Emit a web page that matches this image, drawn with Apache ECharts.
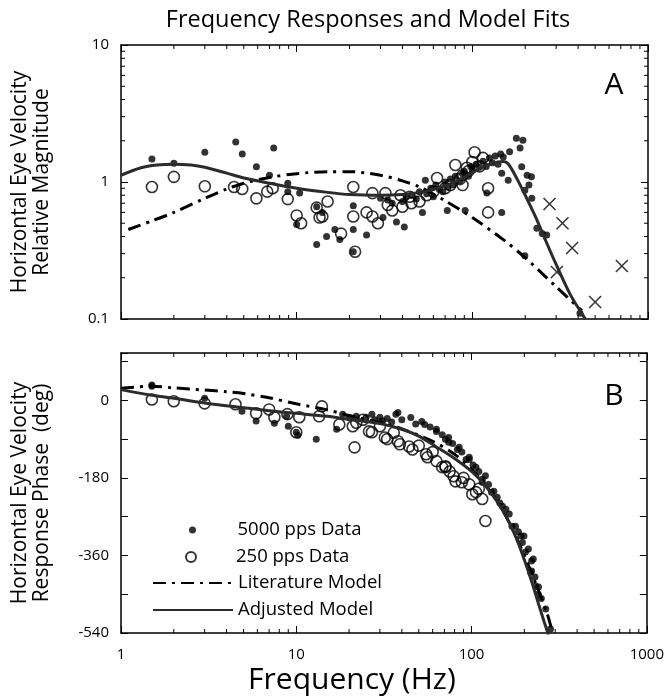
<!DOCTYPE html>
<html>
<head>
<meta charset="utf-8">
<script src="https://cdn.jsdelivr.net/npm/echarts@6/dist/echarts.min.js"></script>
<style>
  html, body { margin: 0; padding: 0; background: #fff; }
  #chart { width: 667px; height: 696px; }
</style>
</head>
<body>
<div id="chart"></div>
<script>
// panel A: magnitude [Hz, relative magnitude]
const dotsA = [
  [1.5,1.47],[2,1.37],[3,1.65],[4.5,1.96],[4.9,1.6],[5.9,1.29],[7.4,1.77],[7,1.12],[8.9,0.98],[8.9,0.85],
  [10.4,0.83],[10,0.49],[13,0.35],[14.8,0.4],[16.5,0.45],[17.6,0.38],[21,0.31],[21,0.45],[21,0.67],[25,0.41],
  [13,0.66],[14,0.6],[30,0.76],[54,1.03],[72,0.62],[91,0.62],[52,0.6],[41,0.47],[37,0.51],[31,0.55],[33,0.74],
  [35,0.7],[40,0.72],[42,0.78],[45,0.8],[48,0.75],[50,0.85],[55,0.82],[58,0.9],[60,0.78],[62,0.95],[65,0.88],
  [68,0.85],[70,1.0],[72,0.92],[75,1.05],[78,0.95],[80,1.1],[85,1.02],[88,1.15],[90,1.2],[95,1.1],[98,1.3],
  [100,1.22],[105,1.35],[110,1.28],[115,1.42],[120,1.3],[125,1.5],[130,1.38],[135,1.55],[140,1.35],[145,1.6],
  [150,1.52],[147,1.16],[160,1.03],[163,1.66],[178,2.09],[194,2.02],[187,1.77],[191,1.29],[205,1.12],[217,1.09],
  [210,0.95],[218,0.76],[199,0.87],[147,0.6],[121,0.83],[233,0.46],[250,0.42],[265,0.41],[199,0.29],[410,0.11]
];
const circlesA = [
  [1.5,0.92],[2,1.09],[3,0.93],[4.4,0.92],[4.9,0.89],[5.9,0.76],[6.8,0.85],[7.3,0.9],[8.9,0.75],[10,0.57],
  [10.6,0.5],[13,0.65],[14,0.56],[15,0.72],[17.9,0.42],[21.5,0.31],[21,0.92],[21,0.56],[27,0.83],[32,0.83],
  [25,0.6],[27,0.56],[29,0.5],[39,0.8],[40,0.66],[13.5,0.55],[63,1.07],[80,1.33],[88,1.12],[44,0.78],
  [103,1.65],[115,1.5],[123,0.9],[123,0.6],[93,1.27],[88,0.95],[35,0.62],[50,0.72],[55,0.8],[60,0.85],
  [70,0.9],[75,0.95],[85,1.05],[95,1.2],[100,1.4],[110,1.3],[45,0.7],[33,0.68]
];
const crossesA = [[275,0.69],[326,0.5],[370,0.33],[303,0.22],[500,0.133],[710,0.244]];
const litA = [
  [1.1,0.45],[1.5,0.52],[2,0.6],[3,0.76],[4,0.89],[5,0.98],[7,1.08],[10,1.15],[15,1.19],[20,1.19],
  [30,1.12],[40,1.02],[50,0.92],[70,0.73],[100,0.55],[150,0.38],[200,0.28],[300,0.172],[420,0.115]
];
const adjA = [
  [1,1.12],[1.3,1.27],[1.6,1.33],[2,1.35],[2.5,1.33],[3,1.28],[4,1.16],[5,1.07],[7,0.98],[10,0.9],
  [15,0.84],[20,0.81],[30,0.8],[40,0.81],[50,0.84],[60,0.88],[70,0.94],[80,1.0],[100,1.17],[120,1.32],
  [140,1.4],[150,1.41],[160,1.36],[180,1.05],[200,0.8],[230,0.55],[260,0.38],[300,0.25],[360,0.152],[440,0.1]
];

// panel B: phase [Hz, deg]
const dotsB = [
  [1.5,33],[1.5,36],[3,5],[4.9,-25],[5.9,-48],[7.5,-53],[8.8,-37],[9,-60],[10.2,-81],[10,-74],[13,-90],
  [17,-67],[18.4,-32],[22,-37],[25,-39],[27,-32],[30,-39],[31,-48],[37,-32],[54,-56],[63,-72],[71,-90],
  [83,-114],[93,-137],[74,-97],[97,-137],[115,-183],[134,-211],[157,-253],[170,-292],[191,-315],[203,-352],
  [220,-373],[217,-399],[232,-431],[240,-450],[265,-484],[282,-531],[38,-28],[52,-49],[63,-67],[74,-86],
  [85,-109],[97,-132],[106,-155],[115,-190],[130,-213],[150,-246],[164,-264],[178,-292],[199,-315],[211,-345],
  [225,-368],[220,-396],[241,-433],[20,-40],[28,-45],[33,-42],[35,-50],[40,-45],[45,-40],[48,-55],[58,-62],
  [68,-80],[78,-100],[88,-120],[102,-150],[110,-165],[120,-175],[125,-195],[140,-225],[145,-238],[185,-305],
  [195,-330],[230,-410],[250,-460]
];
const circlesB = [
  [1.5,2],[2,-2],[3,-7],[4.5,-9],[5.9,-30],[7,-21],[7.5,-39],[8.9,-32],[10,-74],[10.4,-39],[14,-14],
  [13.5,-37],[17.6,-56],[21,-60],[21.5,-109],[26,-72],[32,-86],[38,-95],[44,-107],[55,-125],[63,-141],
  [71,-155],[79,-176],[88,-190],[27,-74],[33,-90],[39,-102],[46,-114],[56,-132],[68,-155],[81,-188],
  [97,-195],[106,-213],[115,-229],[120,-280],[101,-218],[71,-153],[22,-52],[24,-45],[30,-60],[36,-75],
  [50,-105],[60,-120],[75,-165],[90,-180],[110,-205]
];
const litB = [
  [1,28],[1.5,33],[2,29],[3,24],[4,20],[5,16],[7,6],[10,-8],[15,-22],[20,-35],[30,-52],[40,-66],
  [60,-95],[80,-125],[100,-160],[130,-215],[160,-275],[200,-360],[240,-440],[270,-495],[290,-540]
];
const adjB = [
  [1,25],[1.5,12],[2,5],[3,-6],[5,-17],[7,-24],[10,-30],[15,-37],[20,-44],[30,-54],[40,-67],[50,-83],
  [63,-108],[80,-135],[100,-165],[120,-198],[140,-235],[160,-275],[180,-320],[200,-370],[220,-420],
  [240,-470],[260,-515],[275,-545]
];

const magLabels = ['0.1', '1', '10'];
const phaseLabels = [0, -180, -360, -540];

// minor tick values for the log axes
const minorHz = [], minorMag = [];
[1, 10, 100].forEach(d => { for (let m = 2; m <= 9; m++) minorHz.push(d * m); });
[0.1, 1].forEach(d => { for (let m = 2; m <= 9; m++) minorMag.push(+(d * m).toFixed(2)); });

const FONT = 'Open Sans';
const BLACK = '#000';
const chart = echarts.init(document.getElementById('chart'));

const axisLine = { show: true, onZero: false, lineStyle: { color: BLACK, width: 1.5 } };
const tick = { show: true, inside: true, length: 7, lineStyle: { color: BLACK, width: 1 } };
const label = { color: BLACK, fontFamily: FONT, fontSize: 15 };
const yName = { color: BLACK, fontFamily: FONT, fontSize: 21, lineHeight: 22 };

function minorTicks(dir, len) {
  return function (params, api) {
    const cs = params.coordSys;
    const p = api.coord([api.value(0), api.value(1)]);
    const segs = dir === 'x'
      ? [[p[0], cs.y + cs.height, p[0], cs.y + cs.height - len], [p[0], cs.y, p[0], cs.y + len]]
      : [[cs.x, p[1], cs.x + len, p[1]], [cs.x + cs.width, p[1], cs.x + cs.width - len, p[1]]];
    return {
      type: 'group',
      children: segs.map(s => ({
        type: 'line', shape: { x1: s[0], y1: s[1], x2: s[2], y2: s[3] },
        style: { stroke: BLACK, lineWidth: 1 }
      }))
    };
  };
}

const dotStyle = { color: BLACK };
const ringStyle = { color: 'rgba(0,0,0,0)', borderColor: BLACK, borderWidth: 1.6 };
const litLine = { color: BLACK, width: 3, type: [13, 6, 3, 6] };
const adjLine = { color: '#2b2b2b', width: 3 };

const legendText = { color: BLACK, fontFamily: FONT, fontSize: 18.5, lineHeight: 22 };
function legendAt(name, left, top, h, hideSymbol) {
  const lg = { data: [name], left: left, top: top, itemWidth: 80, itemHeight: h, textStyle: legendText, selectedMode: false };
  if (hideSymbol) lg.itemStyle = { opacity: 0 };
  return lg;
}

chart.setOption({
  animation: false,
  textStyle: { fontFamily: FONT },
  graphic: [
    { type: 'text', x: 368, y: 20, style: { text: 'Frequency Responses and Model Fits', font: '23.5px "Open Sans"', fill: BLACK, textAlign: 'center', textVerticalAlign: 'middle' } },
    { type: 'text', x: 614, y: 85, style: { text: 'A', font: '30px "Open Sans"', fill: BLACK, textAlign: 'center', textVerticalAlign: 'middle' } },
    { type: 'text', x: 614, y: 396, style: { text: 'B', font: '30px "Open Sans"', fill: BLACK, textAlign: 'center', textVerticalAlign: 'middle' } }
  ],
  legend: [
    legendAt('5000 pps Data', 184, 514, 7),
    legendAt('250 pps Data', 180, 541, 10),
    legendAt('Literature Model', 147, 567, 14, true),
    legendAt('Adjusted Model', 147, 594, 14, true)
  ],
  grid: [
    { left: 121, top: 45, width: 527, height: 274 },
    { left: 121, top: 353, width: 527, height: 281 }
  ],
  xAxis: [
    { type: 'log', gridIndex: 0, min: 1, max: 1000, axisLine, axisTick: tick, axisLabel: { show: false }, splitLine: { show: false } },
    { type: 'log', gridIndex: 0, min: 1, max: 1000, position: 'top', axisLine, axisTick: tick, axisLabel: { show: false }, splitLine: { show: false } },
    { type: 'log', gridIndex: 1, min: 1, max: 1000, axisLine, axisTick: tick, splitLine: { show: false },
      axisLabel: Object.assign({ margin: 14, formatter: v => String(v) }, label),
      name: 'Frequency (Hz)', nameLocation: 'middle', nameGap: 32,
      nameTextStyle: { color: BLACK, fontFamily: FONT, fontSize: 30, padding: [0, 64, 0, 0] } },
    { type: 'log', gridIndex: 1, min: 1, max: 1000, position: 'top', axisLine, axisTick: tick, axisLabel: { show: false }, splitLine: { show: false } }
  ],
  yAxis: [
    { type: 'log', gridIndex: 0, min: 0.1, max: 10, axisLine, axisTick: tick, splitLine: { show: false },
      axisLabel: Object.assign({ margin: 12, formatter: v => magLabels.find(l => +l === +v) || '' }, label),
      name: 'Horizontal Eye Velocity\nRelative Magnitude', nameLocation: 'middle', nameRotate: 90, nameGap: 68, nameTextStyle: yName },
    { type: 'log', gridIndex: 0, min: 0.1, max: 10, position: 'right', axisLine, axisTick: tick, axisLabel: { show: false }, splitLine: { show: false } },
    { type: 'value', gridIndex: 1, min: -540, max: 110, interval: 90, axisLine, axisTick: tick, splitLine: { show: false },
      axisLabel: Object.assign({ margin: 12, formatter: v => phaseLabels.indexOf(v) >= 0 ? String(v) : '' }, label),
      name: 'Horizontal Eye Velocity\nResponse Phase  (deg)', nameLocation: 'middle', nameRotate: 90, nameGap: 68, nameTextStyle: yName },
    { type: 'value', gridIndex: 1, min: -540, max: 110, interval: 90, position: 'right', axisLine, axisTick: tick, axisLabel: { show: false }, splitLine: { show: false } }
  ],
  series: [
    { name: '5000 pps Data', type: 'scatter', xAxisIndex: 0, yAxisIndex: 0, data: dotsA, symbolSize: 7, itemStyle: dotStyle },
    { name: '250 pps Data', type: 'scatter', xAxisIndex: 0, yAxisIndex: 0, data: circlesA, symbolSize: 11, itemStyle: ringStyle },
    { name: 'Other', type: 'scatter', xAxisIndex: 0, yAxisIndex: 0, data: crossesA, symbolSize: 12,
      symbol: 'path://M0,0L10,10M10,0L0,10', itemStyle: { color: 'rgba(0,0,0,0)', borderColor: BLACK, borderWidth: 1.5 } },
    { name: 'Literature Model', type: 'line', xAxisIndex: 0, yAxisIndex: 0, data: litA, smooth: 0.3, symbol: 'none', lineStyle: litLine, itemStyle: { color: BLACK }, z: 5 },
    { name: 'Adjusted Model', type: 'line', xAxisIndex: 0, yAxisIndex: 0, data: adjA, smooth: 0.3, symbol: 'none', lineStyle: adjLine, itemStyle: { color: BLACK }, z: 6 },

    { name: '5000 pps Data', type: 'scatter', xAxisIndex: 2, yAxisIndex: 2, data: dotsB, symbolSize: 7, itemStyle: dotStyle },
    { name: '250 pps Data', type: 'scatter', xAxisIndex: 2, yAxisIndex: 2, data: circlesB, symbolSize: 11, itemStyle: ringStyle },
    { name: 'Literature Model', type: 'line', xAxisIndex: 2, yAxisIndex: 2, data: litB, smooth: 0.3, symbol: 'none', lineStyle: litLine, itemStyle: { color: BLACK }, z: 5 },
    { name: 'Adjusted Model', type: 'line', xAxisIndex: 2, yAxisIndex: 2, data: adjB, smooth: 0.3, symbol: 'none', lineStyle: adjLine, itemStyle: { color: BLACK }, z: 6 },

    { type: 'custom', xAxisIndex: 0, yAxisIndex: 0, silent: true, clip: false, data: minorHz.map(v => [v, 1]), renderItem: minorTicks('x', 4) },
    { type: 'custom', xAxisIndex: 0, yAxisIndex: 0, silent: true, clip: false, data: minorMag.map(v => [1, v]), renderItem: minorTicks('y', 4) },
    { type: 'custom', xAxisIndex: 2, yAxisIndex: 2, silent: true, clip: false, data: minorHz.map(v => [v, 0]), renderItem: minorTicks('x', 4) }
  ]
});
</script>
</body>
</html>
